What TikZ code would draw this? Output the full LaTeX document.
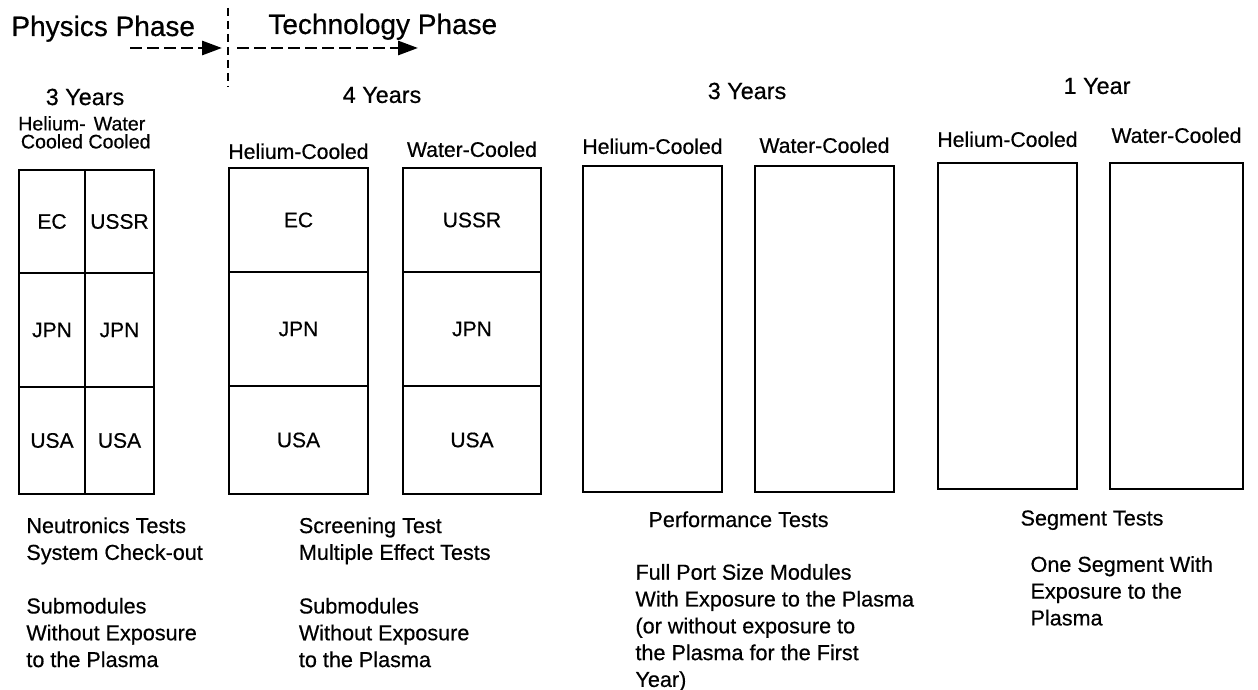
\documentclass[tikz,border=0pt]{standalone}
\usepackage{fontspec}
\setmainfont{Liberation Sans}[FakeBold=0.5]
\usetikzlibrary{positioning, arrows.meta, calc}

\begin{document}
\begin{tikzpicture}[
  x=0.5pt, y=-0.5pt,
  cell/.style={draw, line width=1.3pt, outer sep=0pt, inner sep=0pt,
               font=\fontsize{10.5}{12}\selectfont},
  slot/.style={draw, line width=1.4pt, outer sep=0pt, inner sep=0pt,
               minimum width=69.5pt, minimum height=163pt},
  head/.style={inner sep=0pt, font=\fontsize{10.6}{12}\selectfont},
  minihead/.style={inner sep=0pt, align=center, font=\fontsize{9.8}{9}\selectfont},
  years/.style={inner sep=0pt, font=\fontsize{11.7}{14}\selectfont},
  phase/.style={inner sep=0pt, anchor=base west, font=\fontsize{14}{17}\selectfont},
  notes/.style={inner sep=0pt, align=left, font=\fontsize{10.8}{13.4}\selectfont},
  darr/.style={-{Triangle[length=10pt, width=7pt]}, dash pattern=on 6pt off 2.5pt, line width=1.4pt},
]
\useasboundingbox (0,0) rectangle (1258,690);

% Phases
\node[phase] (phys) at (11,36) {Physics Phase};
\node[phase] (tech) at (268,34) {Technology Phase};
\coordinate (a1s) at (130,48);
\coordinate (a1e) at (222,48);
\coordinate (a2s) at (237,48);
\coordinate (a2e) at (418,48);
\coordinate (divt) at (228,8);
\coordinate (divb) at (228,87);
\draw[darr] (a1s) -- (a1e);
\draw[darr] (a2s) -- (a2e);
\draw[line width=1.2pt, dash pattern=on 4pt off 2.5pt] (divt) -- (divb);

% Durations
\node[years] (y1) at (85,97) {3 Years};
\node[years] (y2) at (382,95) {4 Years};
\node[years] (y3) at (747,91) {3 Years};
\node[years] (y4) at (1097,86) {1 Year};

% Physics phase: split box
\node[cell, minimum width=33pt, minimum height=51.5pt, anchor=north west] (ec1) at (19,170) {EC};
\node[cell, minimum width=33pt, minimum height=57pt, below=0pt of ec1] (jh1) {JPN};
\node[cell, minimum width=33pt, minimum height=53.5pt, below=0pt of jh1] (uh1) {USA};
\node[cell, minimum width=34.5pt, minimum height=51.5pt, right=0pt of ec1] (ussr1) {USSR};
\node[cell, minimum width=34.5pt, minimum height=57pt, below=0pt of ussr1] (jw1) {JPN};
\node[cell, minimum width=34.5pt, minimum height=53.5pt, below=0pt of jw1] (uw1) {USA};
\node[minihead, above=10.5pt of ec1] (hh1) {Helium-\\Cooled};
\node[minihead, above=10.5pt of ussr1] (wh1) {Water\\Cooled};

% Screening: helium and water boxes
\node[cell, minimum width=69.5pt, minimum height=52pt, anchor=north west] (ec2) at (229,168) {EC};
\node[cell, minimum width=69.5pt, minimum height=57pt, below=0pt of ec2] (jh2) {JPN};
\node[cell, minimum width=69.5pt, minimum height=54pt, below=0pt of jh2] (uh2) {USA};
\node[cell, minimum width=69pt, minimum height=52pt, right=17.5pt of ec2] (ussr2) {USSR};
\node[cell, minimum width=69pt, minimum height=57pt, below=0pt of ussr2] (jw2) {JPN};
\node[cell, minimum width=69pt, minimum height=54pt, below=0pt of jw2] (uw2) {USA};
\node[head, above=4.25pt of ec2] (hh2) {Helium-Cooled};
\node[head, above=5.25pt of ussr2] (wh2) {Water-Cooled};

% Performance and segment boxes
\node[slot, anchor=north west] (hp) at (583,166) {};
\node[slot, right=16.5pt of hp] (wp) {};
\node[slot, anchor=north west] (hs) at (938,163) {};
\node[slot, minimum width=66.5pt, right=16.5pt of hs] (ws) {};
\node[head, above=5.75pt of hp] (hh3) {Helium-Cooled};
\node[head, above=6.25pt of wp] (wh3) {Water-Cooled};
\node[head, above=7.75pt of hs] (hh4) {Helium-Cooled};
\node[head, above=9.75pt of ws] (wh4) {Water-Cooled};

% Test notes
\node[notes, below right=11.5pt and 3.5pt of uh1.south west] (n1)
  {Neutronics Tests\\System Check-out\\[13.4pt]Submodules\\Without Exposure\\to the Plasma};
\node[notes, below right=11.5pt and 0pt of uh2.south] (n2)
  {Screening Test\\Multiple Effect Tests\\[13.4pt]Submodules\\Without Exposure\\to the Plasma};
\coordinate (mid3) at ($(hp.south)!0.5!(wp.south)$);
\coordinate (mid4) at ($(hs.south)!0.5!(ws.south)$);
\node[notes, below=9.5pt of mid3] (n3) {Performance Tests};
\node[notes, below right=18pt and -6.5pt of n3.south west] (n3b)
  {Full Port Size Modules\\With Exposure to the Plasma\\(or without exposure to\\the Plasma for the First\\Year)};
\node[notes, below=10.5pt of mid4] (n4) {Segment Tests};
\node[notes, below right=12.7pt and 5pt of n4.south west] (n4b)
  {One Segment With\\Exposure to the\\Plasma};

\end{tikzpicture}
\end{document}
